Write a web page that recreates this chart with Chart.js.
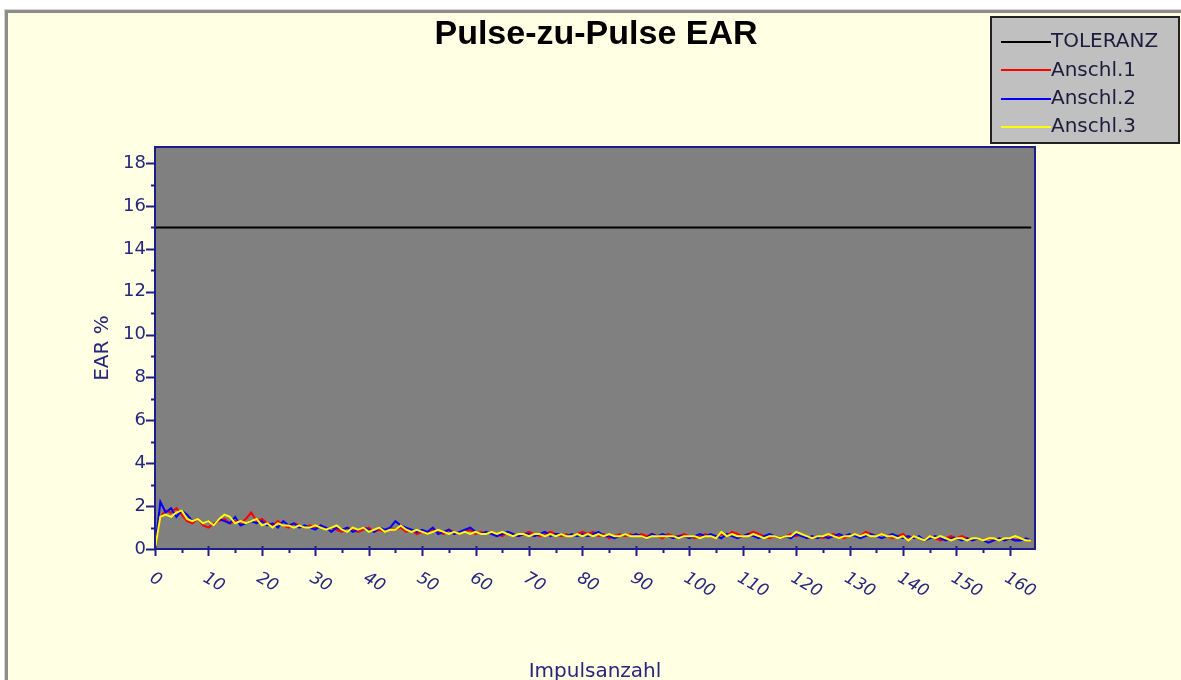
<!DOCTYPE html>
<html>
<head>
<meta charset="utf-8">
<script src="https://cdn.jsdelivr.net/npm/chart.js@4.4.1/dist/chart.umd.min.js"></script>
<style>
  html, body { margin: 0; padding: 0; background: #fff; }
  #chart { display: block; }
</style>
</head>
<body>
<canvas id="chart" width="1181" height="680"></canvas>
<script>
const TITLE = "Pulse-zu-Pulse EAR";
const X_TITLE = "Impulsanzahl";
const Y_TITLE = "EAR %";
const X_TICKS = [0, 10, 20, 30, 40, 50, 60, 70, 80, 90, 100, 110, 120, 130, 140, 150, 160];
const Y_TICKS = [0, 2, 4, 6, 8, 10, 12, 14, 16, 18];
const LABELS = ["TOLERANZ", "Anschl.1", "Anschl.2", "Anschl.3"];
const COLORS = ["#000000", "#ff0000", "#0000ff", "#ffff00"];

// Toleranzgrenze (EAR %) und ihr Bereich auf der x-Achse
const TOLERANZ = 15;
const TOL_RANGE = [0, 164];

// EAR % je Impuls (Impuls 0 .. 164)
const ANSCHL_1 = [
  0, 1.5, 1.8, 1.7, 1.9, 1.6, 1.3, 1.2, 1.4, 1.1,
  1.0, 1.2, 1.3, 1.4, 1.2, 1.3, 1.2, 1.4, 1.7, 1.3,
  1.4, 1.2, 1.1, 1.3, 1.1, 1.0, 1.2, 1.1, 1.0, 1.1,
  1.0, 1.1, 0.9, 1.0, 0.9, 0.8, 1.0, 0.9, 0.8, 0.9,
  1.0, 0.8, 0.9, 0.8, 1.0, 0.9, 1.0, 0.8, 0.9, 0.7,
  0.8, 0.7, 0.9, 0.8, 0.7, 0.9, 0.8, 0.7, 0.8, 0.9,
  0.7, 0.8, 0.7, 0.8, 0.7, 0.6, 0.8, 0.7, 0.6, 0.7,
  0.8, 0.7, 0.6, 0.7, 0.8, 0.7, 0.6, 0.7, 0.6, 0.7,
  0.8, 0.7, 0.8, 0.6, 0.7, 0.5, 0.6, 0.7, 0.6, 0.7,
  0.6, 0.7, 0.6, 0.7, 0.6, 0.5, 0.7, 0.6, 0.6, 0.7,
  0.6, 0.5, 0.6, 0.7, 0.6, 0.5, 0.7, 0.6, 0.8, 0.7,
  0.6, 0.7, 0.8, 0.7, 0.6, 0.5, 0.6, 0.5, 0.6, 0.7,
  0.6, 0.7, 0.6, 0.5, 0.6, 0.5, 0.6, 0.7, 0.6, 0.5,
  0.6, 0.7, 0.6, 0.8, 0.7, 0.6, 0.7, 0.6, 0.5, 0.6,
  0.7, 0.5, 0.6, 0.5, 0.4, 0.6, 0.5, 0.4, 0.5, 0.6,
  0.5, 0.6, 0.5, 0.4, 0.5, 0.4, 0.5, 0.4, 0.5, 0.4,
  0.5, 0.4, 0.5, 0.4, 0.4
];
const ANSCHL_2 = [
  0, 2.2, 1.7, 1.9, 1.5, 1.8, 1.6, 1.3, 1.4, 1.2,
  1.3, 1.1, 1.4, 1.3, 1.2, 1.5, 1.1, 1.2, 1.3, 1.2,
  1.3, 1.1, 1.2, 1.0, 1.3, 1.1, 1.2, 1.0, 1.1, 1.0,
  0.9, 1.1, 1.0, 0.8, 1.0, 0.9, 1.0, 0.8, 0.9, 1.0,
  0.9, 0.8, 1.0, 0.9, 1.0, 1.3, 1.1, 1.0, 0.9, 0.8,
  0.9, 0.8, 1.0, 0.7, 0.8, 0.9, 0.7, 0.8, 0.9, 1.0,
  0.8, 0.7, 0.8, 0.7, 0.6, 0.7, 0.8, 0.7, 0.6, 0.7,
  0.7, 0.6, 0.7, 0.8, 0.6, 0.7, 0.7, 0.6, 0.7, 0.6,
  0.7, 0.6, 0.7, 0.8, 0.6, 0.6, 0.5, 0.6, 0.7, 0.6,
  0.7, 0.6, 0.5, 0.7, 0.6, 0.7, 0.6, 0.5, 0.6, 0.6,
  0.5, 0.6, 0.7, 0.6, 0.7, 0.6, 0.5, 0.7, 0.6, 0.5,
  0.6, 0.7, 0.6, 0.5, 0.6, 0.7, 0.6, 0.5, 0.6, 0.5,
  0.7, 0.6, 0.5, 0.6, 0.5, 0.6, 0.5, 0.6, 0.7, 0.6,
  0.7, 0.6, 0.5, 0.6, 0.7, 0.6, 0.5, 0.6, 0.7, 0.6,
  0.5, 0.6, 0.5, 0.6, 0.4, 0.5, 0.6, 0.5, 0.4, 0.5,
  0.5, 0.4, 0.5, 0.4, 0.5, 0.4, 0.3, 0.4, 0.5, 0.4,
  0.5, 0.4, 0.4, 0.5, 0.4
];
const ANSCHL_3 = [
  0, 1.5, 1.6, 1.5, 1.7, 1.8, 1.4, 1.3, 1.4, 1.2,
  1.3, 1.1, 1.4, 1.6, 1.5, 1.2, 1.3, 1.2, 1.3, 1.4,
  1.1, 1.2, 1.0, 1.2, 1.1, 1.1, 1.0, 1.1, 1.0, 1.0,
  1.1, 1.0, 0.9, 1.0, 1.1, 0.9, 0.8, 1.0, 0.9, 1.0,
  0.8, 0.9, 1.0, 0.8, 0.9, 0.9, 1.1, 0.9, 0.8, 0.9,
  0.8, 0.7, 0.8, 0.9, 0.8, 0.7, 0.8, 0.7, 0.8, 0.7,
  0.8, 0.7, 0.7, 0.8, 0.7, 0.8, 0.7, 0.6, 0.7, 0.7,
  0.6, 0.7, 0.7, 0.6, 0.7, 0.6, 0.7, 0.6, 0.6, 0.7,
  0.6, 0.7, 0.6, 0.7, 0.6, 0.7, 0.6, 0.6, 0.7, 0.6,
  0.6, 0.6, 0.5, 0.6, 0.6, 0.6, 0.6, 0.6, 0.5, 0.6,
  0.6, 0.6, 0.5, 0.6, 0.6, 0.5, 0.8, 0.6, 0.7, 0.6,
  0.6, 0.6, 0.7, 0.6, 0.5, 0.6, 0.6, 0.5, 0.6, 0.6,
  0.8, 0.7, 0.6, 0.5, 0.6, 0.6, 0.7, 0.6, 0.5, 0.6,
  0.6, 0.7, 0.6, 0.7, 0.6, 0.6, 0.7, 0.6, 0.6, 0.5,
  0.6, 0.4, 0.6, 0.5, 0.4, 0.6, 0.5, 0.6, 0.5, 0.4,
  0.5, 0.5, 0.4, 0.5, 0.5, 0.4, 0.5, 0.5, 0.4, 0.5,
  0.5, 0.6, 0.5, 0.4, 0.4
];

const NAVY = "#1e1e8a";
const TEXT_NAVY = "#26267c";

function toPoints(values) {
  return values.map((v, i) => ({ x: i, y: v }));
}

// Rahmen, Titel, Legende, Achsenstriche und gedrehte x-Beschriftung
const decorPlugin = {
  id: "decor",
  beforeDraw(chart) {
    const { ctx, width, height } = chart;
    ctx.save();
    ctx.fillStyle = "#ffffff";
    ctx.fillRect(0, 0, width, height);
    ctx.fillStyle = "#d4d4d4";
    ctx.fillRect(4, 9, width, 1);
    ctx.fillRect(4, 9, 1, height);
    ctx.fillStyle = "#8c8c8c";
    ctx.fillRect(5, 10, width, 3);
    ctx.fillRect(5, 10, 3, height);
    ctx.fillStyle = "#ffffe3";
    ctx.fillRect(8, 13, width, height);
    ctx.restore();
  },
  beforeDatasetsDraw(chart) {
    const { ctx, chartArea: a } = chart;
    ctx.save();
    ctx.fillStyle = "#808080";
    ctx.fillRect(a.left, a.top, a.right - a.left, a.bottom - a.top);
    ctx.restore();
  },
  afterDatasetsDraw(chart) {
    const { ctx, chartArea: a } = chart;
    const xs = chart.scales.x;
    const ys = chart.scales.y;
    ctx.save();
    ctx.strokeStyle = NAVY;
    ctx.lineWidth = 2;
    ctx.strokeRect(a.left, a.top, a.right - a.left, a.bottom - a.top);

    ctx.beginPath();
    for (let v = 0; v <= 18; v++) {
      const y = Math.round(ys.getPixelForValue(v)) + 0.5;
      ctx.moveTo(a.left - (v % 2 === 0 ? 9 : 4), y);
      ctx.lineTo(a.left, y);
    }
    for (let v = 0; v <= 160; v += 5) {
      const x = Math.round(xs.getPixelForValue(v)) + 0.5;
      ctx.moveTo(x, a.bottom - (v % 10 === 0 ? 3 : 0));
      ctx.lineTo(x, a.bottom + (v % 10 === 0 ? 7 : 4));
    }
    ctx.stroke();

    // x-Beschriftung kursiv, im Uhrzeigersinn gedreht
    ctx.fillStyle = TEXT_NAVY;
    ctx.font = "italic 17px 'DejaVu Sans'";
    ctx.textAlign = "left";
    ctx.textBaseline = "middle";
    X_TICKS.forEach((t) => {
      const x = xs.getPixelForValue(t);
      ctx.save();
      ctx.translate(x - 4, a.bottom + 28);
      ctx.rotate(Math.PI / 6);
      ctx.fillText(String(t), 0, 0);
      ctx.restore();
    });
    ctx.restore();
  },
  afterDraw(chart) {
    const { ctx } = chart;
    ctx.save();
    ctx.fillStyle = "#000000";
    ctx.font = "bold 34px 'Liberation Sans'";
    ctx.textAlign = "center";
    ctx.textBaseline = "middle";
    ctx.fillText(TITLE, 596, 35);

    // Legende
    ctx.fillStyle = "#c0c0c0";
    ctx.fillRect(991, 17, 188, 126);
    ctx.strokeStyle = "#222222";
    ctx.lineWidth = 2;
    ctx.strokeRect(991, 17, 188, 126);
    ctx.font = "20px 'DejaVu Sans'";
    ctx.textAlign = "left";
    chart.data.datasets.forEach((ds, i) => {
      const y = 42 + i * 28.3;
      ctx.strokeStyle = ds.borderColor;
      ctx.beginPath();
      ctx.moveTo(1001, Math.round(y));
      ctx.lineTo(1051, Math.round(y));
      ctx.stroke();
      ctx.fillStyle = "#1c1c3c";
      ctx.fillText(ds.label, 1051, y);
    });
    ctx.restore();
  }
};

const ctx = document.getElementById("chart").getContext("2d");
new Chart(ctx, {
  type: "line",
  data: {
    datasets: [
      {
        label: LABELS[0],
        data: TOL_RANGE.map((x) => ({ x: x, y: TOLERANZ })),
        borderColor: COLORS[0],
        order: 3
      },
      { label: LABELS[1], data: toPoints(ANSCHL_1), borderColor: COLORS[1], order: 2 },
      { label: LABELS[2], data: toPoints(ANSCHL_2), borderColor: COLORS[2], order: 1 },
      { label: LABELS[3], data: toPoints(ANSCHL_3), borderColor: COLORS[3], order: 0 }
    ]
  },
  options: {
    responsive: false,
    animation: false,
    events: [],
    parsing: false,
    elements: {
      point: { radius: 0 },
      line: { borderWidth: 2, tension: 0 }
    },
    layout: {
      padding: { top: 147, right: 146, bottom: 0, left: 0 }
    },
    scales: {
      x: {
        type: "linear",
        min: 0,
        max: 164.7,
        grid: { display: false, drawTicks: false },
        border: { display: false },
        ticks: { display: false },
        title: {
          display: true,
          text: X_TITLE,
          color: TEXT_NAVY,
          font: { family: "'DejaVu Sans'", size: 20, lineHeight: 0.8 },
          padding: 0
        },
        afterFit: (scale) => {
          scale.height = 131;
        }
      },
      y: {
        type: "linear",
        min: 0,
        max: 18.75,
        grid: { display: false, drawTicks: false },
        border: { display: false },
        afterBuildTicks: (scale) => {
          scale.ticks = Y_TICKS.map((v) => ({ value: v }));
        },
        ticks: {
          color: TEXT_NAVY,
          padding: 9,
          font: { family: "'DejaVu Sans'", size: 18 }
        },
        title: {
          display: true,
          text: Y_TITLE,
          color: TEXT_NAVY,
          font: { family: "'DejaVu Sans'", size: 20, lineHeight: 1.2 },
          padding: { top: 91, bottom: 0 }
        },
        afterFit: (scale) => {
          scale.width = 155;
        }
      }
    },
    plugins: {
      legend: { display: false },
      title: { display: false },
      tooltip: { enabled: false }
    }
  },
  plugins: [decorPlugin]
});
</script>
</body>
</html>
